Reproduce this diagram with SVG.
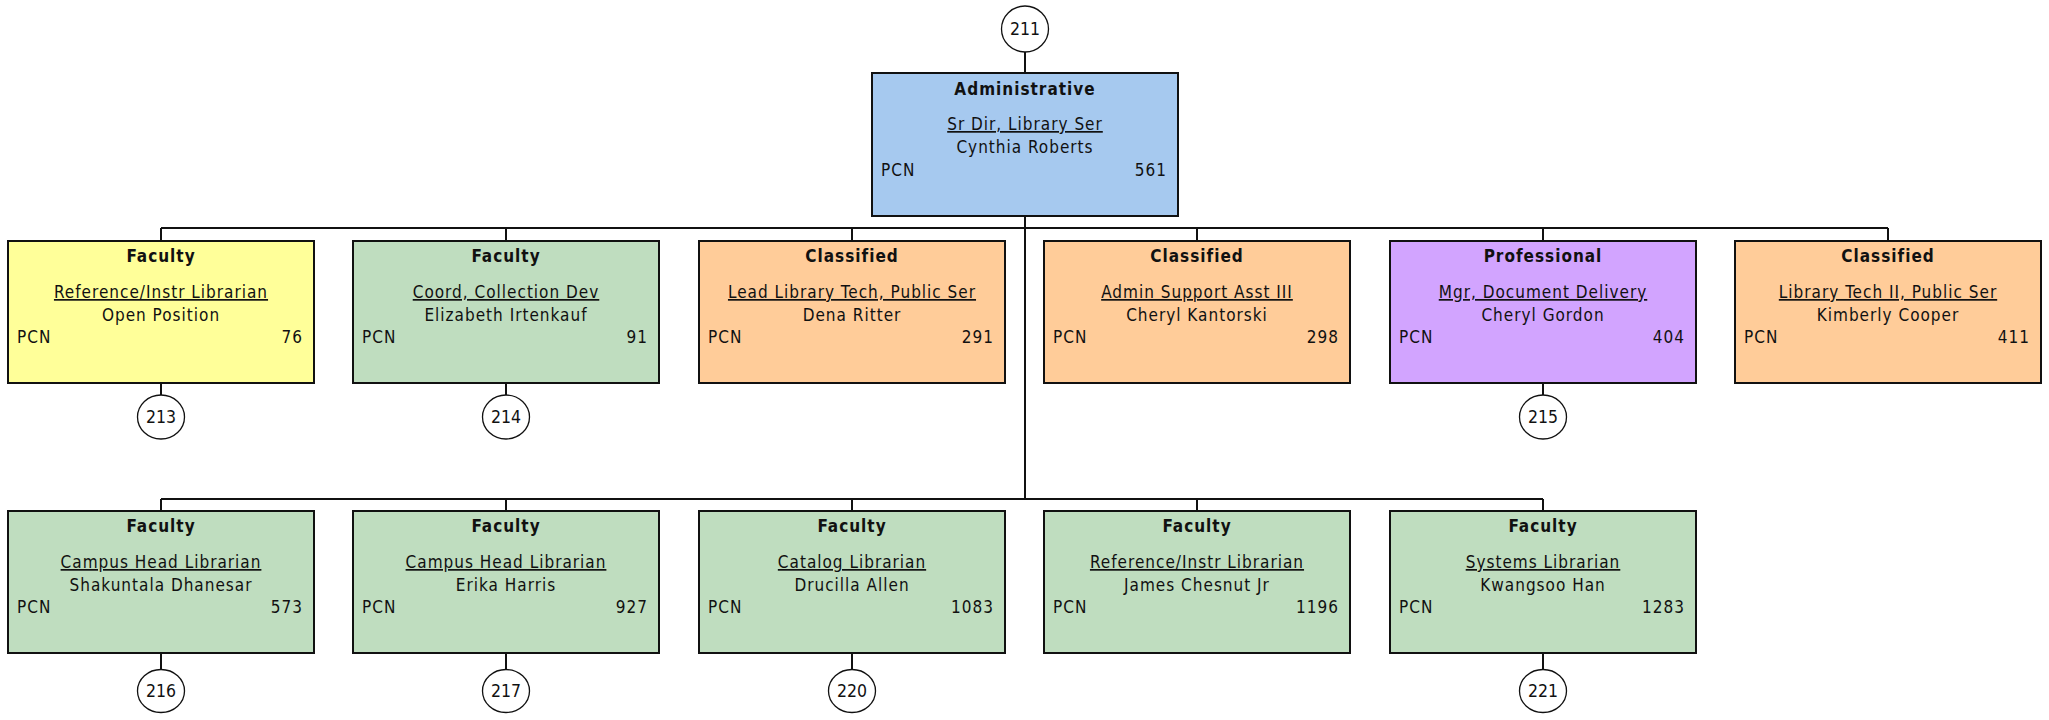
<svg xmlns="http://www.w3.org/2000/svg" width="2049" height="720" viewBox="0 0 2049 720">
<style>
text{font-family:"DejaVu Sans Condensed","DejaVu Sans",sans-serif;font-stretch:condensed;font-size:17px;fill:#111;letter-spacing:1px}
.box{stroke:#111;stroke-width:2}
.t{font-weight:bold;text-anchor:middle}
.j{text-anchor:middle;text-decoration:underline}
.n{text-anchor:middle}
.r{text-anchor:end}
.c{text-anchor:middle;letter-spacing:0;font-size:17.5px}
.blue{fill:#A6C9EF}.yel{fill:#FFFF99}.grn{fill:#BFDDBF}.org{fill:#FFCC99}.pur{fill:#D2A4FF}
.circ{fill:#fff;stroke:#111;stroke-width:1.3}
#connectors line{stroke:#111;stroke-width:2}
</style>
<g id="connectors">
<line x1="1025" y1="52" x2="1025" y2="73"/>
<line x1="1025" y1="216" x2="1025" y2="499"/>
<line x1="161" y1="228" x2="1888" y2="228"/>
<line x1="161" y1="228" x2="161" y2="241"/>
<line x1="506" y1="228" x2="506" y2="241"/>
<line x1="852" y1="228" x2="852" y2="241"/>
<line x1="1197" y1="228" x2="1197" y2="241"/>
<line x1="1543" y1="228" x2="1543" y2="241"/>
<line x1="1888" y1="228" x2="1888" y2="241"/>
<line x1="161" y1="383" x2="161" y2="395"/>
<line x1="506" y1="383" x2="506" y2="395"/>
<line x1="1543" y1="383" x2="1543" y2="395"/>
<line x1="161" y1="499" x2="1543" y2="499"/>
<line x1="161" y1="499" x2="161" y2="511"/>
<line x1="506" y1="499" x2="506" y2="511"/>
<line x1="852" y1="499" x2="852" y2="511"/>
<line x1="1197" y1="499" x2="1197" y2="511"/>
<line x1="1543" y1="499" x2="1543" y2="511"/>
<line x1="161" y1="653" x2="161" y2="669"/>
<line x1="506" y1="653" x2="506" y2="669"/>
<line x1="852" y1="653" x2="852" y2="669"/>
<line x1="1543" y1="653" x2="1543" y2="669"/>
</g>
<g id="c211"><ellipse class="circ" cx="1025" cy="29" rx="23.5" ry="23"/><text class="c" x="1025" y="35">211</text></g>
<g id="n561">
<rect class="box blue" x="872" y="73" width="306" height="143"/>
<text class="t" x="1025" y="95">Administrative</text>
<text class="j" x="1025" y="130">Sr Dir, Library Ser</text>
<text class="n" x="1025" y="153">Cynthia Roberts</text>
<text x="881" y="176">PCN</text><text class="r" x="1167" y="176">561</text>
</g>
<g id="n76">
<rect class="box yel" x="8" y="241" width="306" height="142"/>
<text class="t" x="161" y="262">Faculty</text>
<text class="j" x="161" y="298">Reference/Instr Librarian</text>
<text class="n" x="161" y="321">Open Position</text>
<text x="17" y="343">PCN</text><text class="r" x="303" y="343">76</text>
</g>
<g id="n91">
<rect class="box grn" x="353" y="241" width="306" height="142"/>
<text class="t" x="506" y="262">Faculty</text>
<text class="j" x="506" y="298">Coord, Collection Dev</text>
<text class="n" x="506" y="321">Elizabeth Irtenkauf</text>
<text x="362" y="343">PCN</text><text class="r" x="648" y="343">91</text>
</g>
<g id="n291">
<rect class="box org" x="699" y="241" width="306" height="142"/>
<text class="t" x="852" y="262">Classified</text>
<text class="j" x="852" y="298">Lead Library Tech, Public Ser</text>
<text class="n" x="852" y="321">Dena Ritter</text>
<text x="708" y="343">PCN</text><text class="r" x="994" y="343">291</text>
</g>
<g id="n298">
<rect class="box org" x="1044" y="241" width="306" height="142"/>
<text class="t" x="1197" y="262">Classified</text>
<text class="j" x="1197" y="298">Admin Support Asst III</text>
<text class="n" x="1197" y="321">Cheryl Kantorski</text>
<text x="1053" y="343">PCN</text><text class="r" x="1339" y="343">298</text>
</g>
<g id="n404">
<rect class="box pur" x="1390" y="241" width="306" height="142"/>
<text class="t" x="1543" y="262">Professional</text>
<text class="j" x="1543" y="298">Mgr, Document Delivery</text>
<text class="n" x="1543" y="321">Cheryl Gordon</text>
<text x="1399" y="343">PCN</text><text class="r" x="1685" y="343">404</text>
</g>
<g id="n411">
<rect class="box org" x="1735" y="241" width="306" height="142"/>
<text class="t" x="1888" y="262">Classified</text>
<text class="j" x="1888" y="298">Library Tech II, Public Ser</text>
<text class="n" x="1888" y="321">Kimberly Cooper</text>
<text x="1744" y="343">PCN</text><text class="r" x="2030" y="343">411</text>
</g>
<g id="c213"><ellipse class="circ" cx="161" cy="417" rx="23.5" ry="22"/><text class="c" x="161" y="423">213</text></g>
<g id="c214"><ellipse class="circ" cx="506" cy="417" rx="23.5" ry="22"/><text class="c" x="506" y="423">214</text></g>
<g id="c215"><ellipse class="circ" cx="1543" cy="417" rx="23.5" ry="22"/><text class="c" x="1543" y="423">215</text></g>
<g id="n573">
<rect class="box grn" x="8" y="511" width="306" height="142"/>
<text class="t" x="161" y="532">Faculty</text>
<text class="j" x="161" y="568">Campus Head Librarian</text>
<text class="n" x="161" y="591">Shakuntala Dhanesar</text>
<text x="17" y="613">PCN</text><text class="r" x="303" y="613">573</text>
</g>
<g id="n927">
<rect class="box grn" x="353" y="511" width="306" height="142"/>
<text class="t" x="506" y="532">Faculty</text>
<text class="j" x="506" y="568">Campus Head Librarian</text>
<text class="n" x="506" y="591">Erika Harris</text>
<text x="362" y="613">PCN</text><text class="r" x="648" y="613">927</text>
</g>
<g id="n1083">
<rect class="box grn" x="699" y="511" width="306" height="142"/>
<text class="t" x="852" y="532">Faculty</text>
<text class="j" x="852" y="568">Catalog Librarian</text>
<text class="n" x="852" y="591">Drucilla Allen</text>
<text x="708" y="613">PCN</text><text class="r" x="994" y="613">1083</text>
</g>
<g id="n1196">
<rect class="box grn" x="1044" y="511" width="306" height="142"/>
<text class="t" x="1197" y="532">Faculty</text>
<text class="j" x="1197" y="568">Reference/Instr Librarian</text>
<text class="n" x="1197" y="591">James Chesnut Jr</text>
<text x="1053" y="613">PCN</text><text class="r" x="1339" y="613">1196</text>
</g>
<g id="n1283">
<rect class="box grn" x="1390" y="511" width="306" height="142"/>
<text class="t" x="1543" y="532">Faculty</text>
<text class="j" x="1543" y="568">Systems Librarian</text>
<text class="n" x="1543" y="591">Kwangsoo Han</text>
<text x="1399" y="613">PCN</text><text class="r" x="1685" y="613">1283</text>
</g>
<g id="c216"><ellipse class="circ" cx="161" cy="691" rx="23.5" ry="21.5"/><text class="c" x="161" y="697">216</text></g>
<g id="c217"><ellipse class="circ" cx="506" cy="691" rx="23.5" ry="21.5"/><text class="c" x="506" y="697">217</text></g>
<g id="c220"><ellipse class="circ" cx="852" cy="691" rx="23.5" ry="21.5"/><text class="c" x="852" y="697">220</text></g>
<g id="c221"><ellipse class="circ" cx="1543" cy="691" rx="23.5" ry="21.5"/><text class="c" x="1543" y="697">221</text></g>
</svg>
